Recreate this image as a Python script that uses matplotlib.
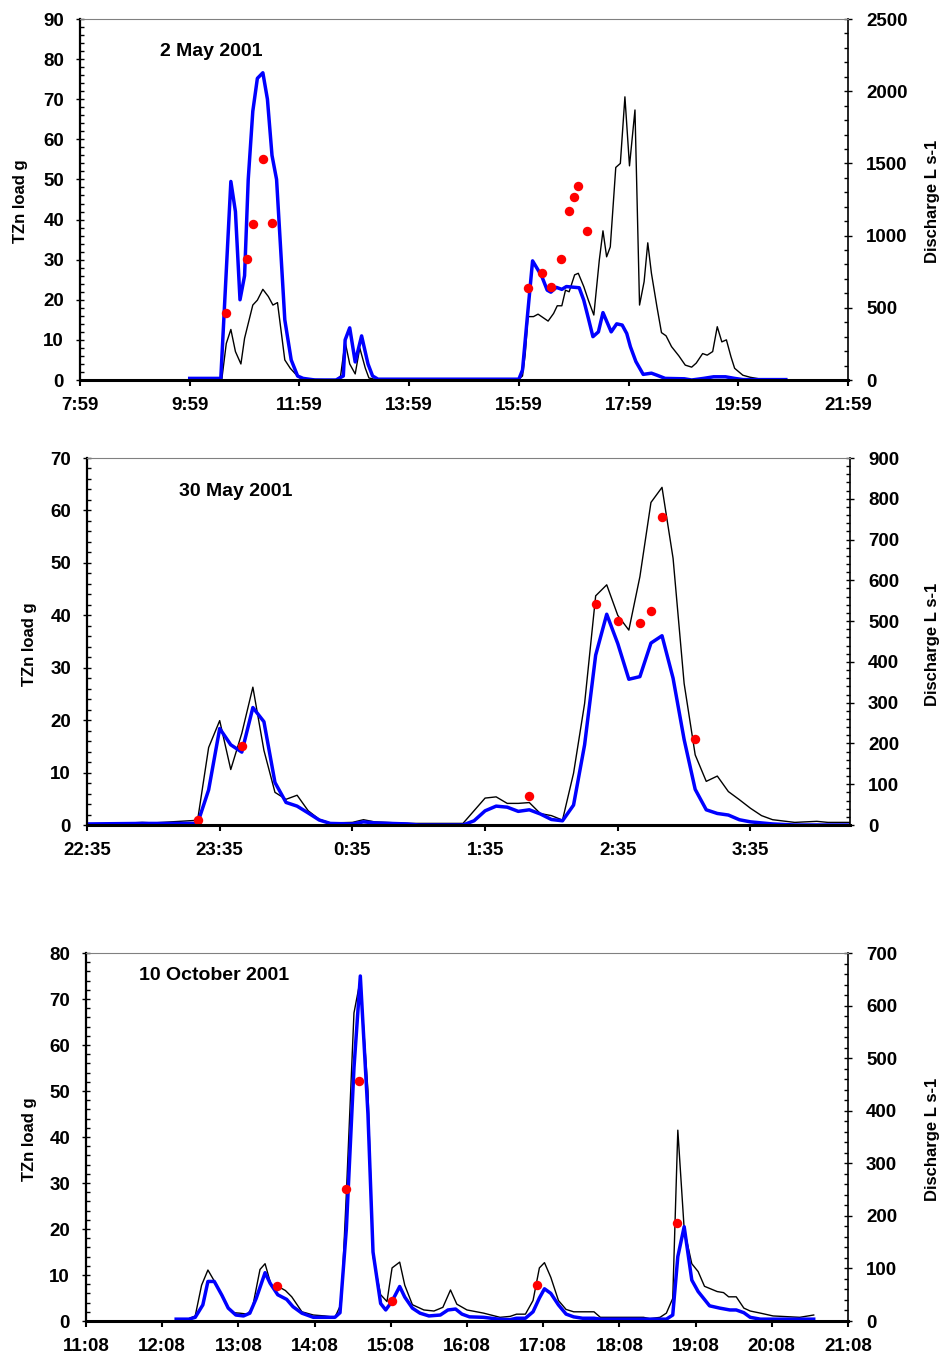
#!/usr/bin/env python3
# -*- coding: utf-8 -*-
"""TZn load and discharge for three storm events (2001)."""

import matplotlib
matplotlib.use("Agg")
import matplotlib.pyplot as plt
from matplotlib.ticker import MultipleLocator, FixedLocator

plt.rcParams['font.family'] = ['Liberation Sans', 'DejaVu Sans']
plt.rcParams['font.weight'] = 'bold'

# region Data (times are minutes after midnight of the first day)

# 2 May 2001
may2_load_t = [599, 633, 644, 649, 654, 659, 663, 668, 673, 679, 684, 689, 694,
               703, 710, 717, 723, 736, 759, 767, 769, 774, 780, 787, 794, 799,
               805, 959, 963, 968, 974, 979, 984, 990, 994, 1000, 1006, 1011,
               1025, 1030, 1035, 1040, 1046, 1051, 1060, 1066, 1072, 1077, 1081,
               1087, 1095, 1104, 1110, 1119, 1140, 1148, 1161, 1172, 1185, 1195,
               1204, 1251]
may2_load = [0.4, 0.4, 49.5, 42, 20, 26, 50, 67, 75.2, 76.6, 70, 56, 50,
             15, 5, 1, 0.4, 0, 0, 1, 10, 13, 4.5, 11, 4, 1,
             0.2, 0.2, 2.5, 15, 29.7, 27.8, 25.9, 22.4, 21.9, 23.1, 22.6, 23.3,
             23, 19.9, 15.4, 10.8, 12, 16.8, 12, 14, 13.7, 11.6, 8.3,
             4.6, 1.4, 1.7, 1.2, 0.4, 0.3, 0, 0.4, 0.8, 0.8, 0.4,
             0.1, 0.1]
may2_q_t = [599, 634, 639, 644, 649, 655, 659, 668, 673, 679, 685, 690, 695,
            703, 709, 718, 723, 759, 764, 769, 774, 780, 785, 791, 795, 805,
            958, 963, 966, 969, 975, 980, 991, 997, 1001, 1006, 1010, 1014,
            1020, 1024, 1030, 1035, 1041, 1047, 1051, 1055, 1059, 1065, 1070,
            1075, 1080, 1086, 1091, 1096, 1100, 1104, 1110, 1115, 1120, 1126,
            1134, 1141, 1148, 1153, 1160, 1165, 1171, 1176, 1181, 1186, 1191,
            1195, 1204, 1212, 1222, 1251]
may2_q = [0, 0, 253, 350, 197, 111, 289, 519, 553, 628, 578, 519, 536,
          139, 81, 19, 6, 0, 28, 264, 111, 42, 222, 83, 14, 0,
          0, 28, 183, 439, 439, 456, 408, 461, 514, 514, 622, 611,
          728, 739, 647, 553, 450, 831, 1033, 853, 922, 1472, 1500,
          1961, 1483, 1870, 519, 681, 950, 739, 508, 328, 306, 231,
          167, 103, 89, 117, 183, 172, 197, 369, 264, 278, 161,
          81, 33, 19, 8, 8]
may2_obs_t = [639, 662, 668, 679, 689, 969, 984, 994.5, 1005, 1013.5, 1019,
              1024, 1034]
may2_obs = [16.6, 30.2, 38.9, 55.2, 39.2, 22.9, 26.8, 23.2, 30.2, 42.1, 45.5,
            48.4, 37.1]

# 30 May 2001 (runs past midnight)
may30_load_t = [1355, 1380, 1405, 1410, 1415, 1420, 1425, 1430, 1435, 1440,
                1445, 1450, 1455, 1460, 1465, 1475, 1480, 1485, 1500, 1505,
                1525, 1530, 1535, 1540, 1545, 1550, 1555, 1560, 1565, 1570,
                1575, 1580, 1585, 1590, 1595, 1600, 1605, 1610, 1615, 1620,
                1625, 1630, 1635, 1640, 1645, 1650, 1655, 1660, 1665, 1675,
                1700]
may30_load = [0.2, 0.3, 0.3, 6.7, 18.4, 15.3, 13.9, 22.4, 19.7, 8.1,
              4.3, 3.6, 2.3, 0.95, 0.3, 0.2, 0.6, 0.4, 0.2, 0,
              0, 0.8, 2.7, 3.6, 3.4, 2.6, 2.9, 2.1, 1.05, 0.8,
              3.8, 15.3, 32.4, 40.2, 34.6, 27.8, 28.3, 34.7, 36.1, 28,
              16.3, 6.8, 2.9, 2.2, 1.9, 1, 0.6, 0.4, 0.2, 0,
              0]
may30_q_t = [1355, 1370, 1380, 1385, 1405, 1410, 1415, 1420, 1425, 1430,
             1435, 1440, 1445, 1450, 1455, 1460, 1465, 1475, 1480, 1485,
             1500, 1525, 1535, 1540, 1545, 1550, 1555, 1560, 1565, 1570,
             1575, 1580, 1585, 1590, 1595, 1600, 1605, 1610, 1615, 1620,
             1625, 1630, 1635, 1640, 1645, 1650, 1655, 1660, 1665, 1675,
             1685, 1690, 1700]
may30_q = [2.6, 3.9, 6.4, 5.1, 11.6, 190, 256, 136, 225, 338,
           183, 80, 63, 73, 35, 14, 5, 6.4, 13, 7.7,
           3.9, 3.9, 66, 69, 53, 53, 55, 28, 23, 12,
           127, 298, 562, 589, 514, 478, 609, 791, 828, 654,
           347, 172, 107, 120, 82, 62, 41, 23, 13, 6.4,
           9, 6.4, 6.4]
may30_obs_t = [1405, 1425, 1555, 1585, 1595, 1605, 1610, 1615, 1630]
may30_obs = [0.95, 15.1, 5.6, 42.2, 39.0, 38.6, 40.9, 58.7, 16.4]

# 10 October 2001
oct10_load_t = [739, 749, 754, 760, 764, 769, 775, 780, 786, 792, 797, 802,
                809, 813, 819, 826, 831, 838, 847, 864, 868, 873, 879, 884,
                890, 894, 900, 904, 909, 915, 919, 925, 931, 938, 947, 953,
                959, 964, 970, 981, 993, 1002, 1007, 1014, 1020, 1025, 1029,
                1034, 1040, 1046, 1052, 1059, 1068, 1073, 1125, 1130, 1134,
                1139, 1145, 1150, 1159, 1167, 1175, 1180, 1186, 1191, 1199,
                1241]
oct10_load = [0.4, 0.4, 0.8, 3.5, 8.6, 8.6, 5.6, 2.8, 1.3, 1.1, 1.7, 4.9,
              10.5, 8.2, 5.7, 4.7, 3.1, 1.7, 0.8, 0.8, 1.8, 20, 55, 75,
              45, 15, 3.8, 2.4, 4.3, 7.5, 5.2, 2.8, 1.7, 1.1, 1.3, 2.4,
              2.6, 1.5, 0.9, 0.8, 0.4, 0.3, 0.6, 0.6, 2, 5, 7,
              6, 3.5, 1.5, 0.9, 0.6, 0.6, 0.4, 0.4, 1.3, 14,
              20.5, 8.9, 6.4, 3.3, 2.8, 2.4, 2.4, 1.8, 0.8, 0.4,
              0.4]
oct10_q_t = [739, 749, 754, 759, 764, 770, 775, 780, 784, 789, 795, 799,
             805, 809, 814, 819, 825, 830, 838, 847, 856, 864, 869, 873,
             879, 884, 890, 894, 900, 905, 909, 915, 919, 925, 934, 942,
             949, 955, 960, 968, 981, 994, 1002, 1007, 1014, 1020, 1025,
             1029, 1034, 1040, 1046, 1052, 1059, 1068, 1073, 1107, 1112,
             1120, 1125, 1130, 1134, 1139, 1145, 1150, 1155, 1165, 1170,
             1174, 1180, 1186, 1191, 1199, 1209, 1230, 1241]
oct10_q = [4.4, 4.4, 9.6, 68, 97, 72, 49, 24.5, 15.8, 14.9, 13.1, 24.5,
           98, 109, 66, 66, 58, 46, 17.5, 11.4, 9.6, 7, 33, 242,
           586, 649, 438, 123, 50, 37, 101, 112, 68, 31, 21, 19,
           26, 59, 32, 21, 15, 7, 8.8, 13, 13, 39, 101,
           111, 83, 39, 22, 17.5, 17.5, 17.5, 7, 7, 4.4,
           7, 15, 43, 363, 175, 109, 94, 66, 56, 54,
           46, 46, 24.5, 19, 15, 9.6, 7, 11.4]
oct10_obs_t = [818, 873, 883, 909, 1023, 1133]
oct10_obs = [7.6, 28.7, 52.2, 4.35, 7.8, 21.3]

# endregion


def clock(m):
    m = int(round(m)) % 1440
    return "%d:%02d" % (m // 60, m % 60)


def draw_panel(fig, rect, title, title_xy, load_t, load, q_t, q, obs_t, obs,
               xlim, xtick_step, ymax, ymax2, major2, minor2, ylab_y):
    ax = fig.add_axes(rect)
    ax2 = ax.twinx()
    # load and samples above the discharge line
    ax.set_zorder(ax2.get_zorder() + 1)
    ax.patch.set_visible(False)

    ax2.plot(q_t, q, color='black', lw=1.0)
    ax.plot(load_t, load, color='#0000ff', lw=2.5)
    ax.plot(obs_t, obs, 'o', color='#ff0000', ms=6.8, mec='none')

    ax.set_xlim(*xlim)
    ax.set_ylim(0, ymax)
    ax2.set_ylim(0, ymax2)

    xt = list(range(xlim[0], xlim[1] + 1, xtick_step))
    ax.xaxis.set_major_locator(FixedLocator(xt))
    ax.set_xticklabels([clock(m) for m in xt])
    ax.yaxis.set_major_locator(MultipleLocator(10))
    ax.yaxis.set_minor_locator(MultipleLocator(2))
    ax2.yaxis.set_major_locator(MultipleLocator(major2))
    ax2.yaxis.set_minor_locator(MultipleLocator(minor2))

    ax.tick_params(axis='x', direction='out', length=4, width=1.5,
                   labelsize=13.5, pad=8)
    ax.tick_params(axis='y', which='major', direction='inout', length=6,
                   width=1, labelsize=13.5, pad=8.5)
    ax.tick_params(axis='y', which='minor', direction='in', length=3, width=1)
    ax2.tick_params(axis='y', which='major', direction='inout', length=6,
                    width=1, labelsize=13.5, pad=10)
    ax2.tick_params(axis='y', which='minor', direction='in', length=3, width=1)

    ax.spines['left'].set_linewidth(1.6)
    ax.spines['bottom'].set_linewidth(2.2)
    ax.spines['right'].set_linewidth(1.2)
    ax.spines['top'].set_linewidth(0.8)
    ax.spines['top'].set_color('#808080')
    for s in ax2.spines.values():
        s.set_visible(False)

    ax.text(title_xy[0], title_xy[1], title, transform=ax.transAxes,
            fontsize=14, fontweight='bold', ha='left', va='center')

    fig.text(ylab_y[0] / 943, 1 - ylab_y[2] / 1356, 'TZn load g', rotation=90,
             ha='center', va='center', fontsize=12, fontweight='bold')
    fig.text(ylab_y[1] / 943, 1 - ylab_y[2] / 1356, 'Discharge L s-1',
             rotation=90, ha='center', va='center', fontsize=12,
             fontweight='bold')
    return ax, ax2


fig = plt.figure(figsize=(9.43, 13.56), dpi=100)

draw_panel(fig, [80 / 943, 1 - 380 / 1356, 768 / 943, 361 / 1356],
           '2 May 2001', (0.104, 0.909),
           may2_load_t, may2_load, may2_q_t, may2_q, may2_obs_t, may2_obs,
           (479, 1319), 120, 90, 2500, 500, 100, (21, 932, 201))

draw_panel(fig, [87 / 943, 1 - 825 / 1356, 763 / 943, 367 / 1356],
           '30 May 2001', (0.12, 0.908),
           may30_load_t, may30_load, may30_q_t, may30_q, may30_obs_t, may30_obs,
           (1355, 1700), 60, 70, 900, 100, 20, (30, 932, 644))

draw_panel(fig, [86 / 943, 1 - 1321 / 1356, 762 / 943, 368 / 1356],
           '10 October 2001', (0.07, 0.9375),
           oct10_load_t, oct10_load, oct10_q_t, oct10_q, oct10_obs_t, oct10_obs,
           (668, 1268), 60, 80, 700, 100, 20, (30, 932, 1139))

fig.savefig('out.png', dpi=100)
